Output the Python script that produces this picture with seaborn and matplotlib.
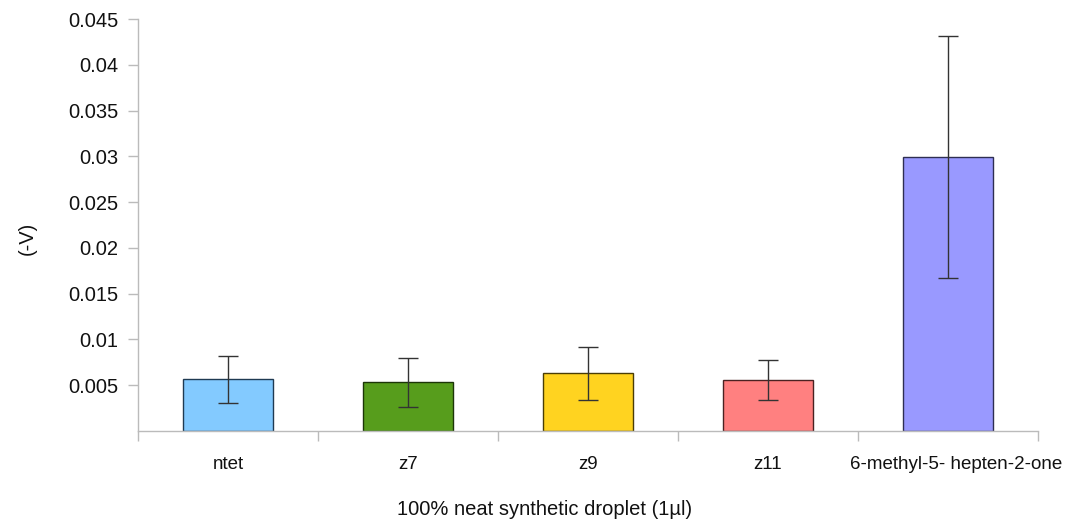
import matplotlib
matplotlib.use("Agg")
import matplotlib.pyplot as plt
import seaborn as sns
import pandas as pd
import numpy as np

categories = ["ntet", "z7", "z9", "z11", "6-methyl-5- hepten-2-one"]
values = [0.0057, 0.0053, 0.0063, 0.0056, 0.0299]
err_low = [0.0026, 0.0027, 0.0029, 0.0022, 0.0132]
err_high = [0.0025, 0.0027, 0.0029, 0.0022, 0.0132]
colors = ["#83CAFF", "#579D1C", "#FFD320", "#FF8080", "#9999FF"]
edges = ["#1f3a52", "#1c3608", "#4a3d06", "#4a2222", "#2e2e52"]
yticks = [0.005, 0.01, 0.015, 0.02, 0.025, 0.03, 0.035, 0.04, 0.045]
ytick_labels = ["0.005", "0.01", "0.015", "0.02", "0.025", "0.03", "0.035", "0.04", "0.045"]

sns.set_theme(style="white")
plt.rcParams['font.family'] = ['Liberation Sans', 'DejaVu Sans']

fig = plt.figure(figsize=(10.73, 5.29), dpi=100)
ax = fig.add_axes([0.1286, 0.1853, 0.9674 - 0.1286, 0.964 - 0.1853])

df = pd.DataFrame({"cat": categories, "val": values})
sns.barplot(data=df, x="cat", y="val", hue="cat", palette=colors, width=0.5,
            dodge=False, legend=False, ax=ax, errorbar=None, linewidth=1.0,
            saturation=1)
for patch, ec in zip(ax.patches, edges):
    patch.set_edgecolor(ec)

x = np.arange(len(categories))
ax.errorbar(x, values, yerr=[err_low, err_high], fmt="none", ecolor="#333333",
            elinewidth=1.0, capsize=7, capthick=1.0, zorder=5)

ax.set_ylim(0, 0.045)
ax.set_xlim(-0.5, len(categories) - 0.5)
ax.set_yticks(yticks)
ax.set_yticklabels(ytick_labels, fontsize=14.5, color="#111111")
ax.set_xticks(x)
ax.set_xticklabels(categories, fontsize=13.5, color="#111111")
ax.set_xticks(np.arange(-0.5, len(categories), 1.0), minor=True)
ax.tick_params(axis="x", which="major", length=0, pad=18)
ax.tick_params(axis="x", which="minor", length=7, width=1, color="#BBBBBB", direction="out", bottom=True)
ax.tick_params(axis="y", which="major", length=7, width=1, color="#BBBBBB", direction="out", left=True, pad=7)
lbls = ax.get_xticklabels()
lbls[-1].set_x(x[-1])
import matplotlib.transforms as mtrans
lbls[-1].set_transform(lbls[-1].get_transform() + mtrans.ScaledTranslation(8/100, 0, fig.dpi_scale_trans))

for s in ["top", "right"]:
    ax.spines[s].set_visible(False)
for s in ["left", "bottom"]:
    ax.spines[s].set_color("#BBBBBB")
    ax.spines[s].set_linewidth(1.0)

ax.set_xlabel("100% neat synthetic droplet (1µl)", fontsize=14.5, color="#111111")
ax.xaxis.set_label_coords(0.452, -0.167)
ax.set_ylabel("(-V)", fontsize=14.5, color="#111111")
ax.yaxis.set_label_coords(-0.112, 0.468)
ax.grid(False)

fig.savefig("out.png", dpi=100)
